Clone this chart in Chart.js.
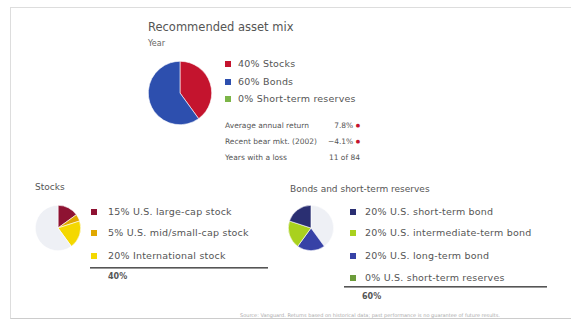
<!DOCTYPE html>
<html>
<head>
<meta charset="utf-8">
<script src="https://cdn.jsdelivr.net/npm/chart.js@4"></script>
<style>
  body { margin: 0; width: 571px; height: 320px; background: #fff; font-family: "DejaVu Sans", Arial, sans-serif; color: #444; overflow: hidden; }
  .abs { position: absolute; }
  .frame { position: absolute; left: 10px; top: 7px; width: 565px; height: 310px; border-left: 1px solid #ddd; border-top: 1px solid #ddd; border-bottom: 1px solid #ccc; }
  .title { font-size: 11.5px; color: #555; white-space: nowrap; }
  .sub { font-size: 8px; color: #666; }
  .item { font-size: 9.5px; color: #555; white-space: nowrap; line-height: 10px; letter-spacing: 0.2px; }
  .sq { position: absolute; width: 6px; height: 6px; }
  .stat { font-size: 7.5px; color: #555; white-space: nowrap; }
  .dot { color: #c4142e; font-size: 5px; vertical-align: 1px; }
  .rule { position: absolute; height: 0; border-top: 1px solid #555; border-bottom: 1px solid #999; }
  .total { font-size: 8px; font-weight: bold; color: #555; }
  .note { font-size: 5px; color: #aaa; white-space: nowrap; }
</style>
</head>
<body>
<div class="frame"></div>
<div class="abs title" style="left:148px; top:20px;">Recommended asset mix</div>
<div class="abs sub" style="left:148px; top:39px;">Year</div>
<canvas id="mixPie" class="abs" style="left:148px; top:61px;" width="64" height="64"></canvas>
<div id="mixLegend"></div>
<div id="stats"></div>

<div class="abs title" style="left:35px; top:182px; font-size:9px;">Stocks</div>
<canvas id="stockPie" class="abs" style="left:35px; top:205px;" width="46" height="46"></canvas>
<div id="stockLegend"></div>
<div class="rule" style="left:90px; top:267px; width:178px;"></div>
<div class="abs total" style="left:108px; top:272px;">40%</div>

<div class="abs title" style="left:290px; top:184px; font-size:9px;">Bonds and short-term reserves</div>
<canvas id="bondPie" class="abs" style="left:288px; top:205px;" width="46" height="46"></canvas>
<div id="bondLegend"></div>
<div class="rule" style="left:344px; top:286px; width:203px;"></div>
<div class="abs total" style="left:362px; top:292px;">60%</div>

<div class="abs note" style="left:240px; top:312px;">Source: Vanguard. Returns based on historical data; past performance is no guarantee of future results.</div>

<script>
// recommended mix
const mixLabels = ['Stocks', 'Bonds', 'Short-term reserves'];
const mixValues = [40, 60, 0];
const mixColors = ['#c4142e', '#2d4fae', '#7cb548'];

// stats under the mix
const statLabels = ['Average annual return', 'Recent bear mkt. (2002)', 'Years with a loss'];
const statValues = ['7.8%', '\u22124.1%', '11 of 84'];

// stocks breakdown (rest of circle left grey)
const stockLabels = ['U.S. large-cap stock', 'U.S. mid/small-cap stock', 'International stock'];
const stockValues = [15, 5, 20];
const stockColors = ['#8e1232', '#e0a800', '#f4d800'];

// bonds breakdown
const bondLabels = ['U.S. short-term bond', 'U.S. intermediate-term bond', 'U.S. long-term bond', 'U.S. short-term reserves'];
const bondValues = [20, 20, 20, 0];
const bondColors = ['#2a2f72', '#a9d11e', '#3742a6', '#6c9c3a'];

const restColor = '#eef0f5';

function addLegend(containerId, x, ys, labels, values, colors, textX) {
    const el = document.getElementById(containerId);
    labels.forEach((label, i) => {
        const sq = document.createElement('div');
        sq.className = 'sq';
        sq.style.left = x + 'px';
        sq.style.top = (ys[i] - 3) + 'px';
        sq.style.background = colors[i];
        el.appendChild(sq);
        const t = document.createElement('div');
        t.className = 'abs item';
        t.style.left = textX + 'px';
        t.style.top = (ys[i] - 5) + 'px';
        t.textContent = values[i] + '%  ' + label;
        el.appendChild(t);
    });
}

function makePie(canvasId, labels, values, colors) {
    const ctx = document.getElementById(canvasId).getContext('2d');
    return new Chart(ctx, {
        type: 'pie',
        data: {
            labels: labels,
            datasets: [{
                data: values,
                backgroundColor: colors,
                borderColor: '#ffffff',
                borderWidth: 0.6
            }]
        },
        options: {
            responsive: false,
            animation: false,
            layout: { padding: 0 },
            plugins: {
                legend: { display: false },
                tooltip: { enabled: false }
            }
        }
    });
}

makePie('mixPie', mixLabels, mixValues, mixColors);
addLegend('mixLegend', 225, [64, 82, 99], mixLabels, mixValues, mixColors, 238);

// stats rows
const statsEl = document.getElementById('stats');
const statYs = [125, 141, 157];
statLabels.forEach((label, i) => {
    const l = document.createElement('div');
    l.className = 'abs stat';
    l.style.left = '225px';
    l.style.top = (statYs[i] - 4) + 'px';
    l.textContent = label;
    statsEl.appendChild(l);
    const v = document.createElement('div');
    v.className = 'abs stat';
    v.style.left = '300px';
    v.style.width = '60px';
    v.style.textAlign = 'right';
    v.style.top = (statYs[i] - 4) + 'px';
    v.innerHTML = statValues[i] + (i < 2 ? ' <span class="dot">&#9679;</span>' : '');
    statsEl.appendChild(v);
});

// stocks pie: stocks first from 12 o'clock, rest grey
makePie('stockPie',
    stockLabels.concat(['Other']),
    stockValues.concat([100 - stockValues.reduce((a, b) => a + b, 0)]),
    stockColors.concat([restColor]));
addLegend('stockLegend', 91, [212, 233, 256], stockLabels, stockValues, stockColors, 108);

// bonds pie: grey first, then long, intermediate, short going clockwise
const bondRest = 100 - bondValues.reduce((a, b) => a + b, 0);
makePie('bondPie',
    ['Other'].concat(bondLabels.slice().reverse()),
    [bondRest].concat(bondValues.slice().reverse()),
    [restColor].concat(bondColors.slice().reverse()));
addLegend('bondLegend', 350, [212, 233, 256, 278], bondLabels, bondValues, bondColors, 365);
</script>
</body>
</html>
